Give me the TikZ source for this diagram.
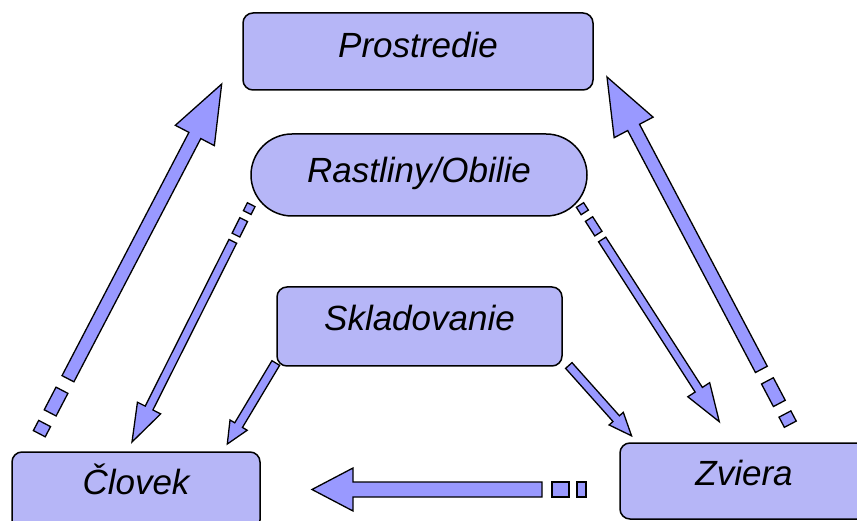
\documentclass[tikz,border=0pt]{standalone}
\usepackage{fontspec}
\setmainfont{Liberation Sans}
\usetikzlibrary{calc}
\definecolor{boxfill}{RGB}{182,182,247}
\definecolor{arrowfill}{RGB}{153,153,255}
\tikzset{
  boxstyle/.style={draw=black, line width=1.5pt, fill=boxfill, rounded corners=10pt,
    inner sep=0pt, outer sep=0pt, anchor=north west,
    font=\fontsize{35}{42}\selectfont\itshape},
  arrowstyle/.style={draw=black, line width=1.3pt, fill=arrowfill, line join=miter},
}
% #1 tail, #2 tip, #3 half shaft, #4 half head, #5 head length,
% #6 block1 end, #7 block2 start, #8 block2 end, #9 shaft start
\newcommand\blockarrow[9]{%
  \path let \p1=(#1), \p2=(#2) in \pgfextra{%
    \pgfmathparse{atan2(\y2-\y1,\x2-\x1)}\xdef\BAang{\pgfmathresult}%
    \pgfmathparse{veclen(\x2-\x1,\y2-\y1)}\xdef\BAlen{\pgfmathresult}%
    \pgfmathparse{\x1}\xdef\BAx{\pgfmathresult pt}%
    \pgfmathparse{\y1}\xdef\BAy{\pgfmathresult pt}};
  \begin{scope}[shift={(\BAx,\BAy)}, rotate=\BAang]
    \ifdim #6pt>0pt
      \draw[arrowstyle] (0pt,-#3pt) rectangle (#6pt,#3pt);
      \draw[arrowstyle] (#7pt,-#3pt) rectangle (#8pt,#3pt);
    \fi
    \draw[arrowstyle] (#9pt,-#3pt) -- ({\BAlen pt-#5pt},-#3pt) -- ({\BAlen pt-#5pt},-#4pt)
      -- (\BAlen pt,0pt) -- ({\BAlen pt-#5pt},#4pt) -- ({\BAlen pt-#5pt},#3pt) -- (#9pt,#3pt) -- cycle;
  \end{scope}}
\begin{document}
\begin{tikzpicture}[x=1pt,y=-1pt]
\useasboundingbox (0,0) rectangle (857,521);
\clip (0,0) rectangle (857,521);
\fill[white] (0,0) rectangle (857,521);
% boxes
\node[boxstyle, minimum width=350pt, text height=45pt, text depth=32pt] (prost) at (243,13) {Prostredie};
\node[boxstyle, minimum width=336pt, text height=49pt, text depth=33pt, rounded corners=41pt] (rast) at (251,134) {Rastliny/Obilie};
\node[boxstyle, minimum width=285pt, text height=44pt, text depth=35pt] (sklad) at (277,287) {Skladovanie};
\node[boxstyle, minimum width=248pt, text height=42pt, text depth=36pt] (clovek) at (12,452) {Človek};
\node[boxstyle, minimum width=248pt, text height=42pt, text depth=34pt] (zviera) at (620,443) {Zviera};
% arrow end points
\coordinate (aLt) at (39.3,433.7);   \coordinate (aLh) at (221.7,84);
\coordinate (aRt) at (790.3,424.2);  \coordinate (aRh) at (607,77);
\coordinate (rCt) at (251.2,204.7);  \coordinate (rCh) at (132,442);
\coordinate (rZt) at (580,205);      \coordinate (rZh) at (719.3,421.7);
\coordinate (sCt) at (275.8,363);    \coordinate (sCh) at (227.3,444);
\coordinate (sZt) at (568.8,365.5);  \coordinate (sZh) at (631.7,436);
\coordinate (zCt) at (586,489.5);    \coordinate (zCh) at (312,489.5);
% arrows
\blockarrow{aLt}{aLh}{6.7}{22}{58}{11.5}{23.5}{49}{62}
\blockarrow{aRt}{aRh}{6.7}{22}{57}{11.5}{23.5}{49}{62}
\blockarrow{rCt}{rCh}{4.3}{13}{38}{8.8}{16.7}{34}{41}
\blockarrow{rZt}{rZh}{4.3}{13}{38}{8.8}{16.7}{34}{41}
\blockarrow{sCt}{sCh}{4.5}{10}{22}{0}{0}{0}{0}
\blockarrow{sZt}{sZh}{4.3}{9.5}{23}{0}{0}{0}{0}
\blockarrow{zCt}{zCh}{7.5}{21.5}{41}{9}{17}{34}{44}
\end{tikzpicture}
\end{document}
